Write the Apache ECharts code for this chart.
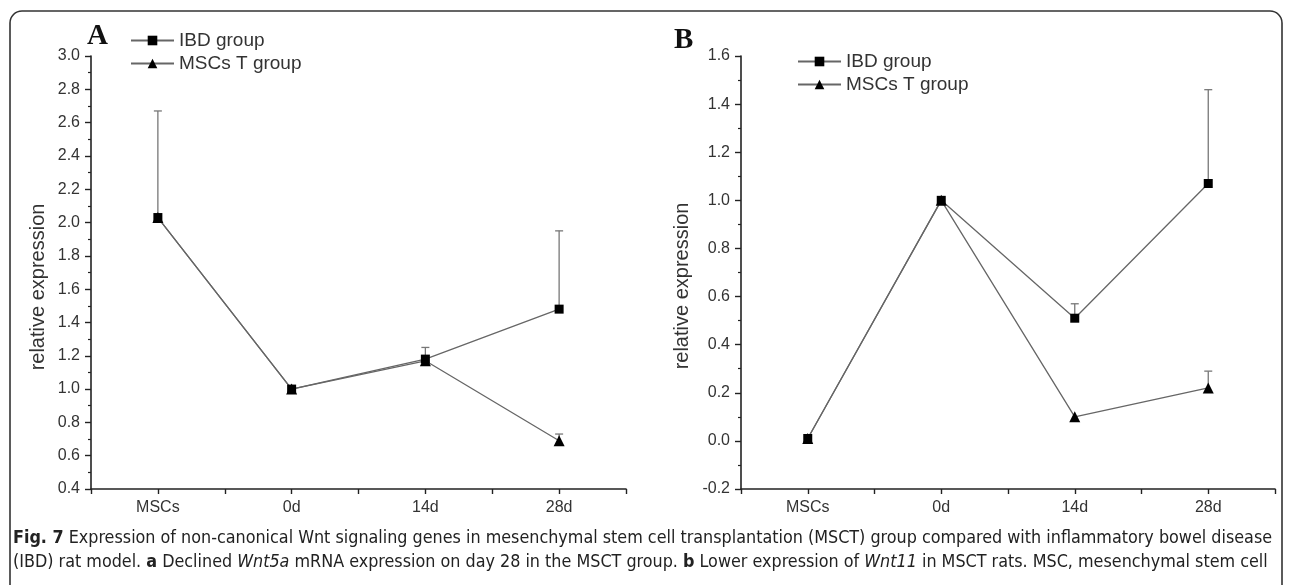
<!DOCTYPE html>
<html>
<head>
<meta charset="utf-8">
<script src="https://cdn.jsdelivr.net/npm/echarts@6/dist/echarts.min.js"></script>
<style>html,body{margin:0;padding:0;background:#fff;}#c{width:1290px;height:585px;}</style>
</head>
<body>
<div id="c"></div>
<script>
// ---- data ----
const categories = ['MSCs', '0d', '14d', '28d'];
const seriesNames = ['IBD group', 'MSCs T group'];
// Panel A (Wnt5a)
const aIBD = [2.03, 1.00, 1.18, 1.48];
const aIBDErr = [0.64, 0, 0.07, 0.47];
const aMSC = [2.03, 1.00, 1.17, 0.69];
const aMSCErr = [0, 0, 0, 0.04];
// Panel B (Wnt11)
const bIBD = [0.01, 1.00, 0.51, 1.07];
const bIBDErr = [0, 0, 0.06, 0.39];
const bMSC = [0.01, 1.00, 0.10, 0.22];
const bMSCErr = [0, 0, 0, 0.07];
// axis ranges
const aYRange = [0.4, 3.0];
const bYRange = [-0.2, 1.6];
const yStep = 0.2;
const yName = 'relative expression';

const LINE = '#666';
const AXIS = '#222';
const TXT = '#333';
const FONT = '"Liberation Sans", Arial, sans-serif';
const CAP = '"Liberation Sans Narrow", "DejaVu Sans Condensed", sans-serif';

function pts(vals) { return vals.map((v, i) => [i + 1, v]); }
function errPts(vals, errs) { return vals.map((v, i) => [i + 1, v, v + errs[i], errs[i]]); }

function xAxisDef(gi) {
  return {
    type: 'value', gridIndex: gi, min: 0.5, max: 4.5, interval: 0.5,
    axisLine: { show: true, onZero: false, lineStyle: { color: AXIS, width: 1.6 } },
    axisTick: { show: true, length: 5, lineStyle: { color: AXIS, width: 1.4 } },
    splitLine: { show: false },
    axisLabel: {
      color: TXT, fontFamily: FONT, fontSize: 16, margin: 11,
      formatter: v => (Math.abs(v - Math.round(v)) < 1e-6 && v >= 1 && v <= 4) ? categories[Math.round(v) - 1] : ''
    }
  };
}
function yAxisDef(gi, r) {
  return {
    type: 'value', gridIndex: gi, min: r[0], max: r[1], interval: yStep,
    axisLine: { show: true, onZero: false, lineStyle: { color: AXIS, width: 1.6 } },
    axisTick: { show: true, length: 6, lineStyle: { color: AXIS, width: 1.4 } },
    minorTick: { show: true, splitNumber: 2, length: 3, lineStyle: { color: AXIS, width: 1.2 } },
    splitLine: { show: false },
    axisLabel: { color: TXT, fontFamily: FONT, fontSize: 16, margin: 11, formatter: v => v.toFixed(1) }
  };
}
function lineSeries(name, gi, vals, sym, size) {
  return {
    name, type: 'line', xAxisIndex: gi, yAxisIndex: gi, data: pts(vals),
    symbol: sym, symbolSize: size, showSymbol: true,
    lineStyle: { color: LINE, width: 1.3 },
    itemStyle: { color: '#000' },
    z: 3, animation: false
  };
}
function errSeries(gi, vals, errs) {
  return {
    type: 'custom', xAxisIndex: gi, yAxisIndex: gi, data: errPts(vals, errs),
    z: 2, animation: false, silent: true,
    renderItem: function (params, api) {
      if (api.value(3) <= 0) return null;
      const p0 = api.coord([api.value(0), api.value(1)]);
      const p1 = api.coord([api.value(0), api.value(2)]);
      const st = { stroke: '#777', lineWidth: 1.3 };
      return {
        type: 'group', children: [
          { type: 'line', shape: { x1: p0[0], y1: p0[1], x2: p1[0], y2: p1[1] }, style: st },
          { type: 'line', shape: { x1: p1[0] - 4, y1: p1[1], x2: p1[0] + 4, y2: p1[1] }, style: st }
        ]
      };
    }
  };
}
function legendDef(left, top) {
  return {
    data: seriesNames, left, top, orient: 'vertical', itemWidth: 43, itemHeight: 12, itemGap: 4,
    textStyle: { color: TXT, fontFamily: FONT, fontSize: 19 },
    selectedMode: false, padding: 0
  };
}

const chart = echarts.init(document.getElementById('c'), null, { renderer: 'canvas' });
chart.setOption({
  backgroundColor: '#fff',
  animation: false,
  grid: [
    { left: 91, top: 56, width: 535, height: 433 },
    { left: 741, top: 56, width: 534, height: 433 }
  ],
  xAxis: [xAxisDef(0), xAxisDef(1)],
  yAxis: [yAxisDef(0, aYRange), yAxisDef(1, bYRange)],
  legend: [legendDef(130, 31), legendDef(797, 52)],
  series: [
    errSeries(0, aIBD, aIBDErr), errSeries(0, aMSC, aMSCErr),
    lineSeries(seriesNames[0], 0, aIBD, 'rect', 9),
    lineSeries(seriesNames[1], 0, aMSC, 'triangle', 11),
    errSeries(1, bIBD, bIBDErr), errSeries(1, bMSC, bMSCErr),
    lineSeries(seriesNames[0], 1, bIBD, 'rect', 9),
    lineSeries(seriesNames[1], 1, bMSC, 'triangle', 11)
  ],
  graphic: [
    { type: 'rect', shape: { x: 10, y: 11, width: 1272, height: 620, r: 12 }, style: { fill: 'none', stroke: '#333', lineWidth: 1.6 }, z: -1 },
    { type: 'text', left: 87, top: 22, style: { text: 'A', font: 'bold 29px "Liberation Serif", "DejaVu Serif", serif', fill: '#111' } },
    { type: 'text', left: 674, top: 26, style: { text: 'B', font: 'bold 29px "Liberation Serif", "DejaVu Serif", serif', fill: '#111' } },
    { type: 'text', x: 38, y: 287, rotation: Math.PI / 2, style: { text: yName, font: '20px ' + FONT, fill: TXT, textAlign: 'center', textVerticalAlign: 'middle' } },
    { type: 'text', x: 682, y: 286, rotation: Math.PI / 2, style: { text: yName, font: '20px ' + FONT, fill: TXT, textAlign: 'center', textVerticalAlign: 'middle' } },
    {
      type: 'text', left: 13, top: 529,
      style: {
        text: '{b|Fig. 7} Expression of non-canonical Wnt signaling genes in mesenchymal stem cell transplantation (MSCT) group compared with inflammatory bowel disease',
        fill: '#222', font: '17.8px ' + CAP,
        rich: { b: { fontWeight: 'bold', fontSize: 17.8, fontFamily: CAP, fill: '#222' } }
      }
    },
    {
      type: 'text', left: 13, top: 553,
      style: {
        text: '(IBD) rat model. {b|a} Declined {i|Wnt5a} mRNA expression on day 28 in the MSCT group. {b|b} Lower expression of {i|Wnt11} in MSCT rats. MSC, mesenchymal stem cell',
        fill: '#222', font: '17.8px ' + CAP,
        rich: {
          b: { fontWeight: 'bold', fontSize: 17.8, fontFamily: CAP, fill: '#222' },
          i: { fontStyle: 'italic', fontSize: 17.8, fontFamily: CAP, fill: '#222' }
        }
      }
    }
  ]
});
</script>
</body>
</html>
